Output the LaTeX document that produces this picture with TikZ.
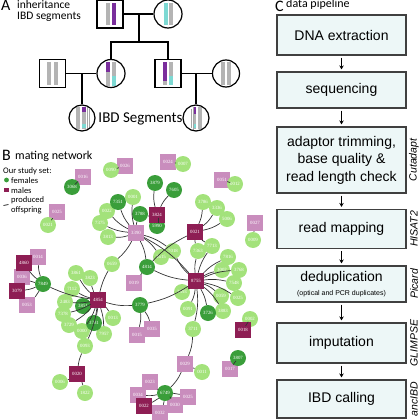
\documentclass[tikz,border=0pt]{standalone}
\usepackage{fontspec}
\setmainfont{Liberation Sans}
\newfontfamily\calfont{Carlito}
\newfontfamily\numfont{Liberation Serif}
\usetikzlibrary{arrows.meta}

\definecolor{ibdpurple}{HTML}{7A2E9C}
\definecolor{ibdcyan}{HTML}{7DD9D3}
\definecolor{bargray}{HTML}{B4B4B4}
\definecolor{femlight}{HTML}{A3E27B}
\definecolor{femdark}{HTML}{3A9E3A}
\definecolor{maledark}{HTML}{8E1E54}
\definecolor{malelight}{HTML}{C98DBD}
\definecolor{stagefill}{HTML}{EDF7F7}

\tikzset{
  fem/.style={circle, fill=femlight, minimum size=16pt, inner sep=0pt, text=white,
    font=\numfont\fontsize{4.8}{5}\selectfont},
  femS/.style={fem, fill=femdark},
  male/.style={rectangle, fill=maledark, minimum size=16pt, inner sep=0pt, text=white,
    font=\numfont\fontsize{4.8}{5}\selectfont},
  maleO/.style={male, fill=malelight},
  mate/.style={draw=black!80, line width=0.7pt},
  ped/.style={draw=black, line width=1.2pt},
  pedm/.style={ped, rectangle, minimum width=26pt, minimum height=28pt, inner sep=0pt},
  pedf/.style={ped, circle, minimum size=#1, inner sep=0pt},
  pedf/.default=28pt,
  stage/.style={draw=black!75, line width=1.2pt, fill=stagefill, minimum width=129pt,
    align=center, inner sep=0pt, font=\fontsize{14}{17.5}\selectfont},
  flow/.style={-{Stealth[length=4pt,width=4.5pt]}, line width=1pt, shorten <=2pt, shorten >=2pt},
  tool/.style={rotate=90, inner sep=0pt, font=\itshape\fontsize{10.5}{12}\selectfont},
  lbl/.style={anchor=base west, inner sep=0pt, font=\calfont\fontsize{12}{12}\selectfont},
  big/.style={lbl, font=\calfont\fontsize{16}{16}\selectfont},
  key/.style={lbl, font=\calfont\fontsize{8.5}{10}\selectfont},
}

\begin{document}
\begin{tikzpicture}[x=1pt, y=-1pt]
\useasboundingbox (0,0) rectangle (420,420);

% A: inheritance
\node[big] (labA) at (1,10.5) {A};
\node[lbl, font=\calfont\fontsize{11.5}{11.5}\selectfont] (inh) at (17,8.5) {inheritance};
\node[lbl, font=\calfont\fontsize{11.5}{11.5}\selectfont] (ibdseg) at (17,19.5) {IBD segments};

\foreach \x/\c in {106/bargray,112/ibdpurple,164/ibdcyan,169/bargray} {
    \fill[\c] (\x,3) rectangle (\x+4,25);
}
\foreach \x in {47,54,221,227} {
    \fill[bargray] (\x,62) rectangle (\x+4,85);
}
% parents of the IBD pair
\fill[ibdpurple] (106,62) rectangle (110,72);
\fill[bargray] (106,72) rectangle (110,86);
\fill[bargray] (112,62) rectangle (116,76);
\fill[ibdcyan] (112,76) rectangle (116,86);
\fill[ibdpurple] (163,62) rectangle (167,81);
\fill[bargray] (163,81) rectangle (167,85);
\fill[bargray] (169,62) rectangle (173,76);
\fill[ibdcyan] (169,76) rectangle (173,85);
% IBD pair
\fill[bargray] (76,107) rectangle (80,129);
\fill[bargray] (82,107) rectangle (86,129);
\fill[ibdpurple] (82,107) rectangle (86,112);
\fill[ibdcyan] (82,124) rectangle (86,128);
\fill[bargray] (192,107) rectangle (196,129);
\fill[bargray] (198,107) rectangle (202,129);
\fill[ibdpurple] (192,107) rectangle (196,114);
\fill[ibdcyan] (192,124) rectangle (196,128);

\node[pedm] (gf) at (110,14) {};
\node[pedf] (gm) at (168,14) {};
\node[pedm] (il) at (52.5,73.5) {};
\node[pedf] (d1) at (111,73.5) {};
\node[pedm] (s1) at (168,73.5) {};
\node[pedf=27pt] (sw) at (226,73.5) {};
\node[draw=gray!70, line width=0.7pt, double=white, double distance=1.4pt,
      minimum width=104pt, minimum height=21pt, inner sep=0pt,
      font=\calfont\fontsize{15}{15}\selectfont] (ibd) at (140.5,118.5) {IBD Segments};
\node[pedf=26pt] (g1) at (82,118) {};
\node[pedf=26pt] (g2) at (196,118) {};

\coordinate (m1) at (139,14);
\coordinate (sib) at (139,42);
\coordinate (m2) at (82,73.5);
\coordinate (m3) at (196,73.5);
\draw[ped] (gf) -- (gm);
\draw[ped] (m1) -- (sib);
\draw[ped] (d1.north) |- (sib) -| (s1.north);
\draw[ped] (il) -- (d1);
\draw[ped] (s1) -- (sw);
\draw[ped] (m2) -- (g1);
\draw[ped] (m3) -- (g2);

% B: mating network
\node[big] (labB) at (2,160.5) {B};
\node[lbl] (mnet) at (15,159) {mating network};
\node[key] (study) at (3,173.5) {Our study set:};
\node[key] (kf) at (11,183) {females};
\node[key] (km) at (11,193) {males};
\node[key] (ko1) at (11,202.5) {produced};
\node[key] (ko2) at (11,212) {offspring};
\fill[femdark] (6.5,180) circle[radius=2.4];
\fill[maledark] (4.3,187.5) rectangle (8.7,191.9);
\draw[mate, line width=0.8pt] (3.5,205.5) -- (8.5,204.5);

\foreach \n/\x/\y/\t in {p0026/125/166/0026, p0016/83/177/0016, p0025/57/212/0025,
    p0024/168/162/0024, p0051/222/180/0051, p0027/255/223/0027, p3390/136/233/3390,
    p0014/38/257/0014, p0036/22/277/0036, p0053/27/305/0053, p0019/134/283/0019,
    p0015/137/335/0015, p0035/152/329/0035, p0029/185/364/0029, p0023/150/382/0023,
    p0034/138/395/0034, p0032/160/413/0032, p0030/175/405/0030, p0028/188/397/0025,
    p0017/230/369/0017} {
    \node[maleO] (\n) at (\x,\y) {\t};
}
\foreach \n/\x/\y/\t in {a0090/111/170/0090, a0021/48/225/0021, a0001/133/197/0001,
    a0022/107/211/0022, a7375/100/223/7375, a3813/108/237/3813, a0659/112/264/0659,
    a0007/183/164/0007, a0012/235/184/0012, a3786/203/202/3786, a3336/217/208/3336,
    a5006/227/219/5006, a0009/253/240/0009, a7363/198/251/7363, a7713/212/246/7713,
    a7018/173/251/7018, a3615/161/257/3615, a7816/228/257/7816, a3002/222/270/3002,
    a3768/239/270/3768, a7548/234/283/7548, a2593/182/292/2593, a0059/221/296/0059,
    a0025/238/298/0025, a0091/188/309/0091, a3883/223/311/3883, a3711/193/329/3711,
    a0002/250/319/0002, a0011/202/372/0011, a3861/76/273/3861, a3823/90/278/3823,
    a7112/72/289/7112, a2483/65/302/2483, a7378/63/314/7378, a3729/69/325/3729,
    a0000/82/331/0000, a0013/113/318/0013, a7957/104/334/7957, a0093/85/346/0093,
    a0006/60/382/0006, a1822/85/393/1822} {
    \node[fem] (\n) at (\x,\y) {\t};
}
\foreach \n/\x/\y/\t in {b3068/72/187/3068, b7351/118/202/7351, b3788/140/214/3788,
    b3879/155/183/3879, b7605/174/190/7605, b5990/157/226/5990, b4814/147/267/4814,
    b3779/140/305/3779, b3726/208/313/3726, b3807/238/358/3807, b6749/165/393/6749,
    b7849/43/284/7849, b3851/83/306/3851, b3781/94/323/3781} {
    \node[femS] (\n) at (\x,\y) {\t};
}
\foreach \n/\x/\y/\t in {m3824/157/215/3824, m0021/195/232/0021, m8755/196/281/8755,
    m4860/24/263/4860, m3079/17/291/3079, m4854/98/300/4854, m0020/77/374/0020,
    m0018/243/330/0018, m0022/144/406/0022} {
    \node[male] (\n) at (\x,\y) {\t};
}

% matings
\foreach \b in {b7351,a0022,a7375,a3813,b3788,a0001,a0659,a3615,a7018,m8755,b4814}
    \draw[mate] (p3390) to[bend left=10] (\b);
\foreach \b in {b3879,b7605,b5990,b3788}
    \draw[mate] (m3824) to[bend left=10] (\b);
\foreach \b in {a3786,a3336,a5006,a7363,a7713,b4814}
    \draw[mate] (m0021) to[bend right=10] (\b);
\foreach \b in {a7363,a7713,a7816,a3002,a3768,a7548,a2593,a0059,a0025,a0091,b3726,a3883,a3711,a7018,b4814,b3779}
    \draw[mate] (m8755) to[bend left=10] (\b);
\foreach \b in {p0015,p0035,m4854}
    \draw[mate] (b3779) to[bend left=10] (\b);
\foreach \b in {p0023,p0034,m0022,p0032,p0030,p0028}
    \draw[mate] (b6749) to[bend left=8] (\b);
\foreach \b in {a2483,b3851,a7378,a3729,a0000,b3781,a0013,a7957,a3861,a3823,a7112,a0093,a0659,b7849}
    \draw[mate] (m4854) to[bend left=8] (\b);
\foreach \b in {a0093,a0006,a1822}
    \draw[mate] (m0020) to[bend left=8] (\b);
\foreach \b in {m4860,p0014,p0036,m3079,p0053}
    \draw[mate] (b7849) to[bend left=8] (\b);
\draw[mate] (a3711) to[bend left=10] (p0029);
\draw[mate] (p0029) to[bend left=10] (b6749);
\foreach \a/\b in {p0026/a0090, p0016/b3068, p0025/a0021, p0051/a0012, p0027/a0009,
    p0024/a0007, p0029/a0011, p0017/b3807, m0018/a0002, p0019/b4814}
    \draw[mate] (\a) -- (\b);

% C: data pipeline
\node[big] (labC) at (275,11.5) {C};
\node[lbl] (dpipe) at (286,7.5) {data pipeline};
\node[stage, minimum height=40pt] (s1) at (341.5,35) {DNA extraction};
\node[stage, minimum height=36pt] (s2) at (341.5,90) {sequencing};
\node[stage, minimum height=66pt] (s3) at (341.5,160) {adaptor trimming,\\ base quality \&\\ read length check};
\node[stage, minimum height=39pt] (s4) at (341.5,229) {read mapping};
\node[stage, minimum height=36pt] (s5) at (341.5,284) {deduplication\\[-3pt]{\fontsize{7}{8}\selectfont(optical and PCR duplicates)}};
\node[stage, minimum height=40pt] (s6) at (341.5,343) {imputation};
\node[stage, minimum height=38pt] (s7) at (341.5,399) {IBD calling};
\foreach \a/\b in {s1/s2,s2/s3,s3/s4,s4/s5,s5/s6,s6/s7}
    \draw[flow] (\a) -- (\b);
\node[tool] (t3) at (414,160) {Cutadapt};
\node[tool] (t4) at (414,229) {HISAT2};
\node[tool] (t5) at (414,284) {Picard};
\node[tool] (t6) at (414,343) {GLIMPSE};
\node[tool] (t7) at (414,399) {ancIBD};
\end{tikzpicture}
\end{document}
